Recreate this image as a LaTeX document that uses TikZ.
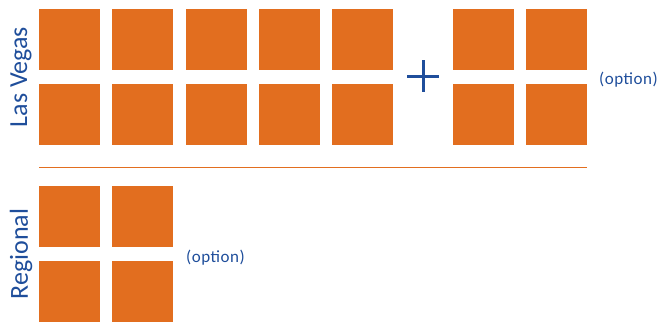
\documentclass[tikz,border=0pt]{standalone}
\usepackage{fontspec}
\setmainfont{Carlito}
\newfontfamily\optfont[LetterSpace=3]{Carlito}
\usepackage{tikz}
\usetikzlibrary{positioning}
\definecolor{tileorange}{HTML}{E26E1F}
\definecolor{labelblue}{HTML}{1F4E9B}

\begin{document}
\begin{tikzpicture}[
    x=1pt, y=-1pt,
    tile/.style={fill=tileorange, minimum size=61pt, inner sep=0pt, outer sep=0pt},
    group/.style={text=labelblue, font=\fontsize{26}{26}\selectfont, rotate=90},
    opt/.style={text=labelblue, inner sep=0pt, font=\optfont\fontsize{17}{17}\selectfont},
]
    \useasboundingbox (0,0) rectangle (658,324);
    % las vegas tiles
    \node[tile] (lv11) at (69.5,39.5) {};
    \node[tile] (lv12) at (142.75,39.5) {};
    \node[tile] (lv13) at (216,39.5) {};
    \node[tile] (lv14) at (289.25,39.5) {};
    \node[tile] (lv15) at (362.5,39.5) {};
    \node[tile] (lv21) at (69.5,114.5) {};
    \node[tile] (lv22) at (142.75,114.5) {};
    \node[tile] (lv23) at (216,114.5) {};
    \node[tile] (lv24) at (289.25,114.5) {};
    \node[tile] (lv25) at (362.5,114.5) {};
    % optional tiles
    \node[tile] (ex11) at (483.5,39.5) {};
    \node[tile] (ex12) at (556.5,39.5) {};
    \node[tile] (ex21) at (483.5,114.5) {};
    \node[tile] (ex22) at (556.5,114.5) {};
    \draw[labelblue, line width=3pt] (407,76) -- (439,76) (423,60) -- (423,92);
    \node[opt, anchor=west] (lvopt) at (599,80) {(option)};
    % separator
    \draw[tileorange, line width=1pt] (39,167) -- (587,167);
    % regional tiles
    \node[tile] (rg11) at (69.5,216.5) {};
    \node[tile] (rg12) at (142.75,216.5) {};
    \node[tile] (rg21) at (69.5,291.5) {};
    \node[tile] (rg22) at (142.75,291.5) {};
    \node[opt, anchor=west] (rgopt) at (186,257.5) {(option)};
    % labels
    \node[group] (lv) at (21,77) {Las Vegas};
    \node[group] (rg) at (21,254) {Regional};
\end{tikzpicture}
\end{document}
